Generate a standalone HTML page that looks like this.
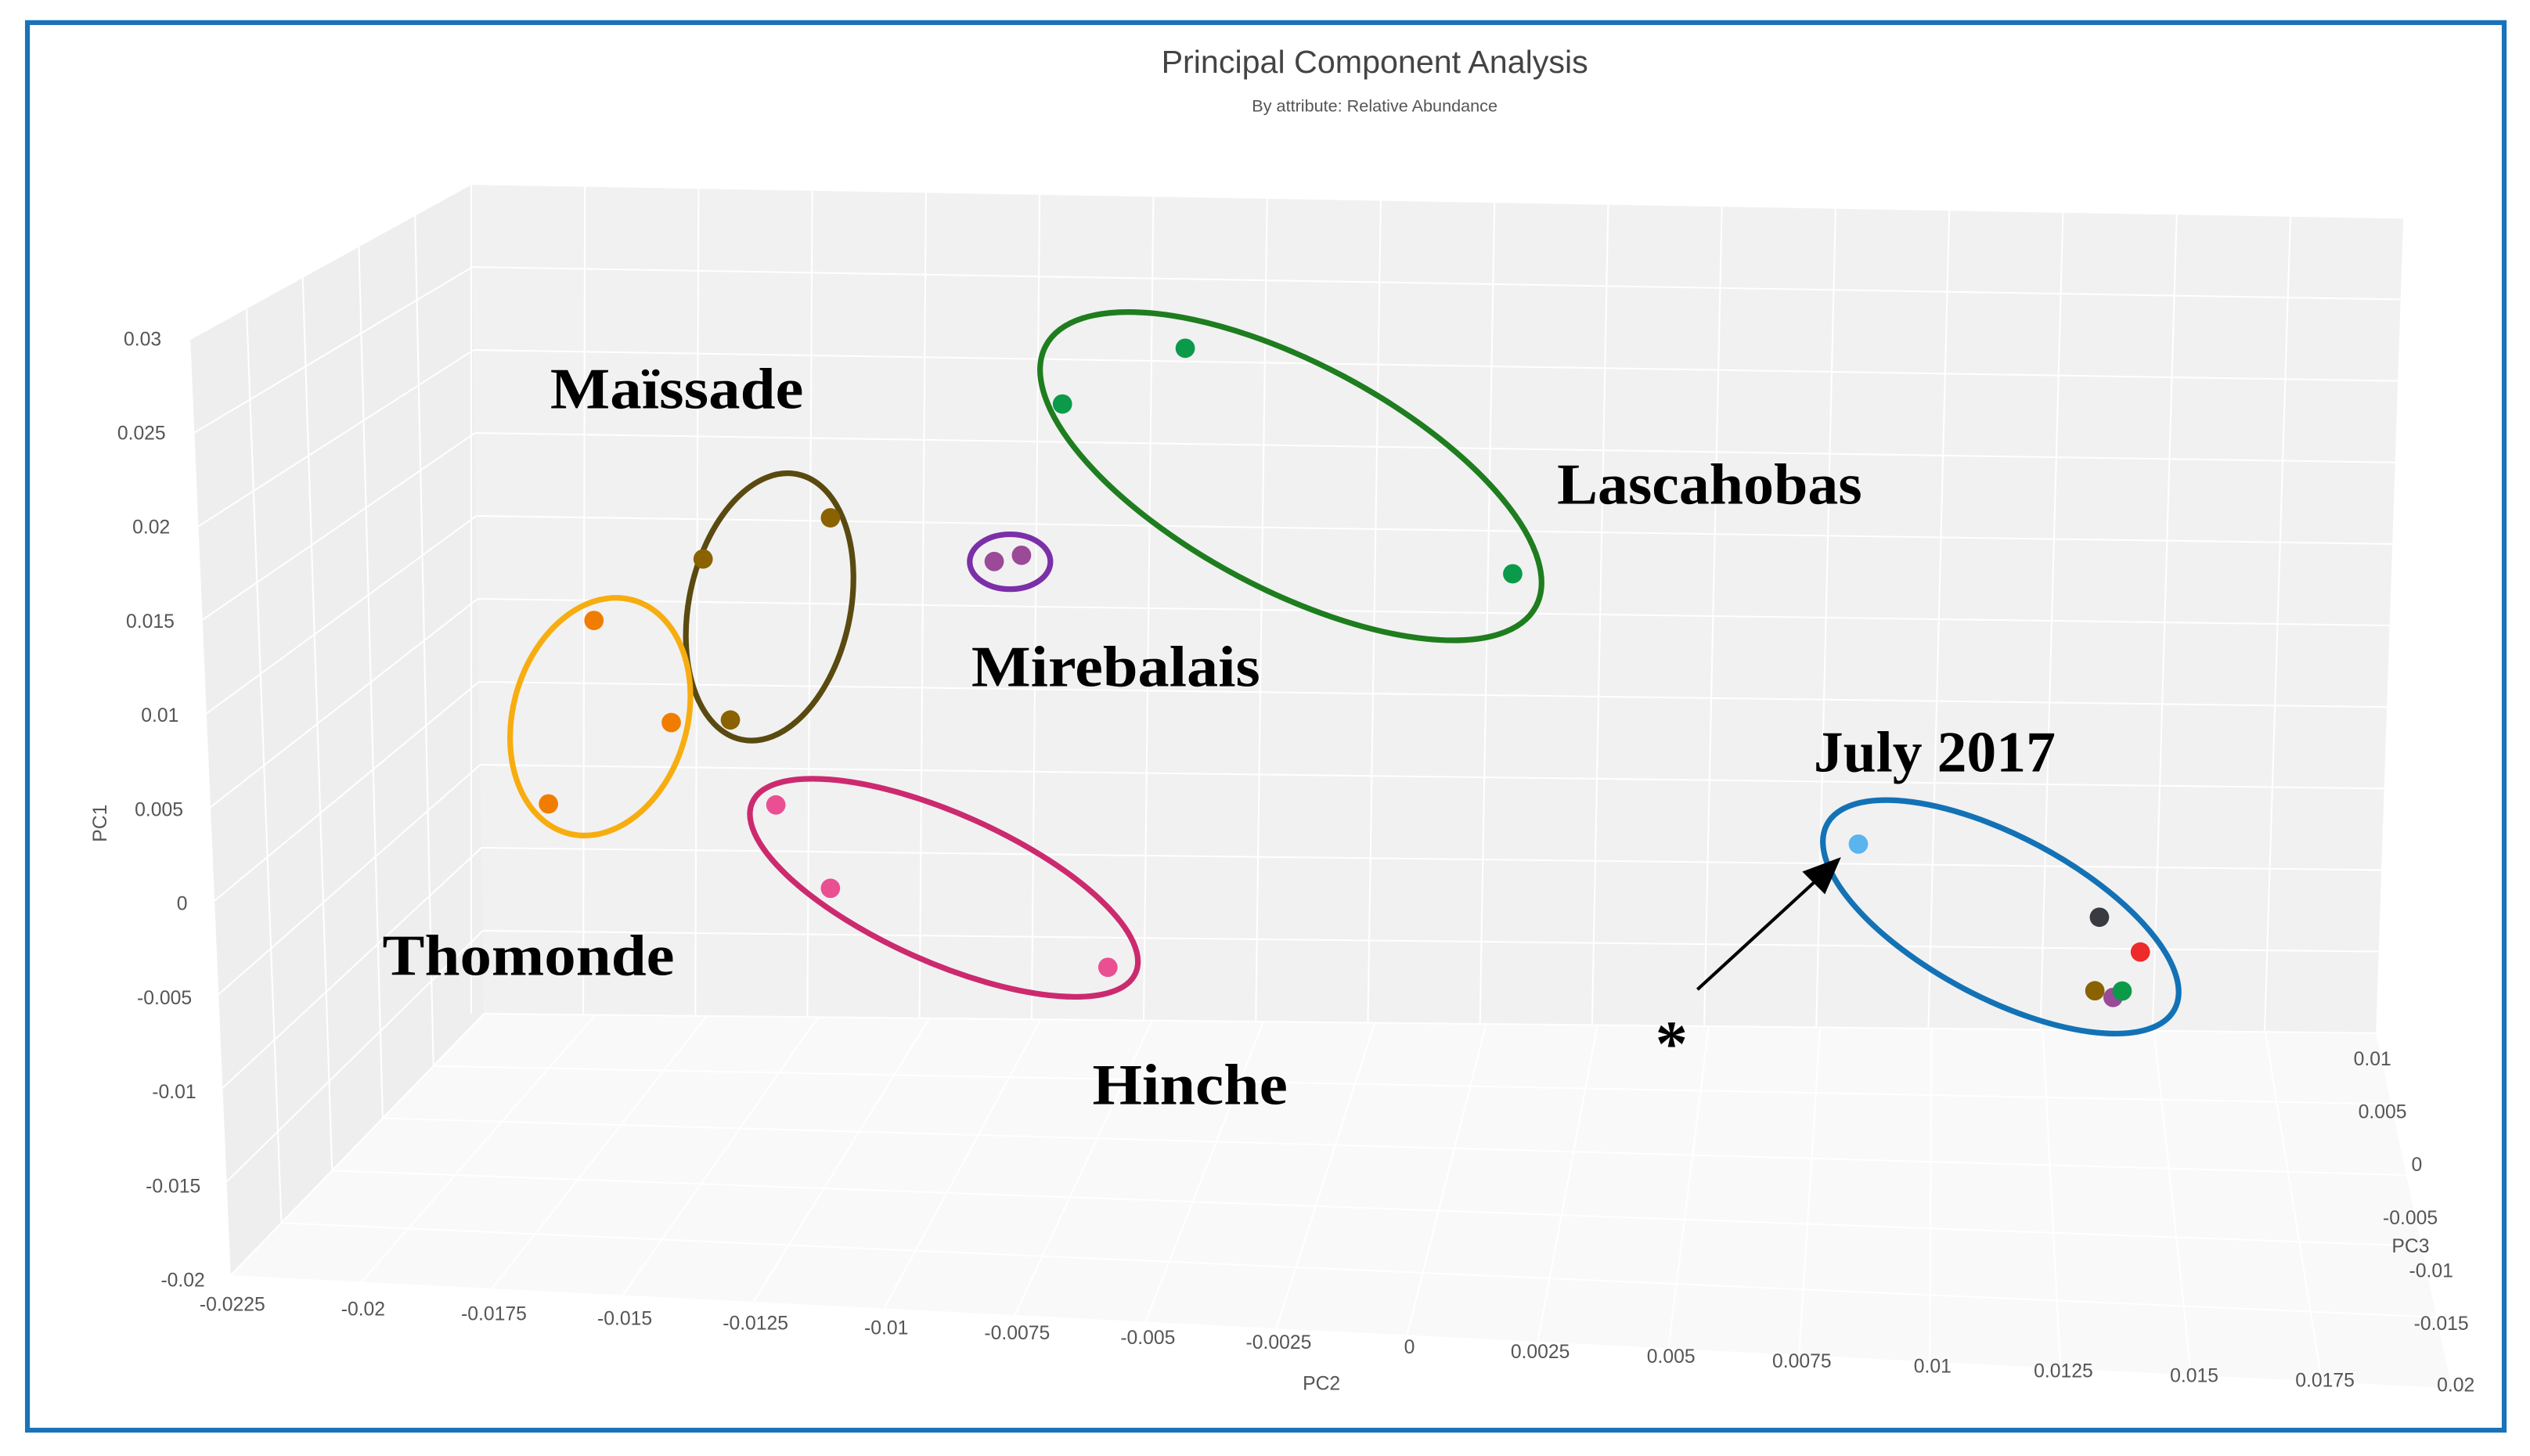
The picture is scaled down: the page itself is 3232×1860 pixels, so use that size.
<!DOCTYPE html>
<html><head><meta charset="utf-8"><style>
html,body{margin:0;padding:0;background:#fff;width:3232px;height:1860px;overflow:hidden}
svg{display:block}
.tk{font-family:"Liberation Sans",sans-serif;font-size:12px;fill:#555}
.lab{font-family:"Liberation Serif",serif;font-weight:bold;font-size:36px;fill:#000}
</style></head><body>
<svg id="chart" width="3232" height="1860" viewBox="0 0 1568 902" preserveAspectRatio="none" xmlns="http://www.w3.org/2000/svg">
<rect x="17" y="14" width="1535" height="872" fill="#fff" stroke="#1a72b8" stroke-width="3"/>
<text x="852" y="45" text-anchor="middle" font-family="Liberation Sans,sans-serif" font-size="20" fill="#444">Principal Component Analysis</text>
<text x="852" y="69" text-anchor="middle" font-family="Liberation Sans,sans-serif" font-size="10.5" fill="#555">By attribute: Relative Abundance</text>
<polygon points="143,790 300,628 1473,640 1520,860" fill="#f9f9f9"/>
<polygon points="118,210 292,114 300,628 143,790" fill="#eeeeee"/>
<polygon points="292,114 1490,135 1473,640 300,628" fill="#f1f1f1"/>
<g id="grid"></g>
<g id="ellipses">
<ellipse cx="800" cy="295" rx="172" ry="70" transform="rotate(28 800 295)" fill="none" stroke="#1e7d1e" stroke-width="3.5"/>
<ellipse cx="626" cy="348" rx="25" ry="17" fill="none" stroke="#7b2fa8" stroke-width="3.5"/>
<ellipse cx="477" cy="376" rx="50" ry="84" transform="rotate(12 477 376)" fill="none" stroke="#5a4a10" stroke-width="3.5"/>
<ellipse cx="372" cy="444" rx="54" ry="75" transform="rotate(16 372 444)" fill="none" stroke="#f7ad0f" stroke-width="3.5"/>
<ellipse cx="585" cy="550" rx="130" ry="46" transform="rotate(24 585 550)" fill="none" stroke="#cc2a6e" stroke-width="3.5"/>
<ellipse cx="1240" cy="568" rx="122" ry="50" transform="rotate(28 1240 568)" fill="none" stroke="#1372b6" stroke-width="3.5"/>
</g>
<g id="points"></g>
<line x1="1052" y1="613" x2="1125" y2="546" stroke="#000" stroke-width="2"/>
<polygon points="1141,531 1117,540 1131,554" fill="#000"/>
<text x="1026" y="660" font-family="Liberation Serif,serif" font-weight="bold" font-size="40">*</text>
<text class="lab" x="341" y="253" textLength="157" lengthAdjust="spacingAndGlyphs">Maïssade</text>
<text class="lab" x="965" y="312" textLength="189" lengthAdjust="spacingAndGlyphs">Lascahobas</text>
<text class="lab" x="602" y="425" textLength="179" lengthAdjust="spacingAndGlyphs">Mirebalais</text>
<text class="lab" x="1124" y="478" textLength="150" lengthAdjust="spacingAndGlyphs">July 2017</text>
<text class="lab" x="237" y="604" textLength="181" lengthAdjust="spacingAndGlyphs">Thomonde</text>
<text class="lab" x="677" y="684" textLength="121" lengthAdjust="spacingAndGlyphs">Hinche</text>
<g id="ticks"></g>
<text class="tk" transform="translate(66,510) rotate(-90)" text-anchor="middle" font-size="10">PC1</text>
<text class="tk" x="819" y="861" text-anchor="middle" font-size="10">PC2</text>
<text class="tk" x="1494" y="776" text-anchor="middle" font-size="10">PC3</text>
</svg>
<script>
const pc2Ticks=[-0.0225,-0.02,-0.0175,-0.015,-0.0125,-0.01,-0.0075,-0.005,-0.0025,0,0.0025,0.005,0.0075,0.01,0.0125,0.015,0.0175,0.02];
const pc1Ticks=[0.03,0.025,0.02,0.015,0.01,0.005,0,-0.005,-0.01,-0.015,-0.02];
const pc3Ticks=[0.01,0.005,0,-0.005,-0.01,-0.015];
const pointGroups=["Lascahobas","Lascahobas","Lascahobas","Mirebalais","Mirebalais","Maissade","Maissade","Maissade","Thomonde","Thomonde","Thomonde","Hinche","Hinche","Hinche","July-a","July-b","July-c","July-d","July-e","July-f"];
const pc2Values=[-0.0095,-0.0068,0.0004,-0.0110,-0.0104,-0.0146,-0.0174,-0.0168,-0.0198,-0.0181,-0.0208,-0.0158,-0.0146,-0.0085,0.0080,0.0133,0.0142,0.0132,0.0136,0.0138];
const pc1Values=[0.0173,0.0208,0.0074,0.0077,0.0081,0.0102,0.0076,-0.0021,0.0038,-0.0023,-0.0073,-0.0072,-0.0122,-0.0168,-0.0088,-0.0131,-0.0152,-0.0176,-0.0180,-0.0176];
const pointColors=["#0a9a4a","#0a9a4a","#0a9a4a","#9a4a96","#9a4a96","#8a6200","#8a6200","#8a6200","#f07d00","#f07d00","#f07d00","#ea4f93","#ea4f93","#ea4f93","#5ab4ee","#3a3a42","#ee2a2a","#8a6200","#9a4a96","#0a9a4a"];
const NS="http://www.w3.org/2000/svg";
function fx(v){return (v+0.0225)/0.0425;}
function sx(pc2){return 292+fx(pc2)*1198;}
function sy(pc1,pc2){const f=fx(pc2),t=114+21*f,b=628+12*f;return t+(0.03-pc1)/0.05*(b-t);}
function mk(tag,attrs,parent){const e=document.createElementNS(NS,tag);for(const k in attrs)e.setAttribute(k,attrs[k]);parent.appendChild(e);return e;}
const grid=document.getElementById('grid');
pc2Ticks.forEach(v=>{const l=mk('line',{x1:sx(v),y1:sy(0.03,v),x2:sx(v)-(fx(v)*17),y2:sy(-0.02,v),stroke:'#fff','stroke-width':1},grid);

});
pc1Ticks.forEach((v,i)=>{const l=mk('line',{x1:292+i*0.8,y1:sy(v,-0.0225),x2:1490-i*1.7,y2:sy(v,0.02),stroke:'#fff','stroke-width':1},grid);

});
pc1Ticks.forEach((v,i)=>{const t=i/10;const l=mk('line',{x1:118+t*25,y1:210+t*580,x2:292+t*8,y2:114+t*514,stroke:'#fff','stroke-width':1},grid);

});
[0.2,0.4,0.6,0.8].forEach(t=>{const l=mk('line',{x1:118+t*174,y1:210-t*96,x2:143+t*157,y2:790-t*162,stroke:'#fff','stroke-width':1},grid);

});
[0.2,0.4,0.6,0.8].forEach(t=>{const l=mk('line',{x1:300-t*157,y1:628+t*162,x2:1473+t*47,y2:640+t*220,stroke:'#fff','stroke-width':1},grid);

});
pc2Ticks.forEach((v,i)=>{const f=fx(v);const l=mk('line',{x1:300+f*1173,y1:628+f*12,x2:143+f*1377,y2:790+f*70,stroke:'#fff','stroke-width':1},grid);

});
const pts=document.getElementById('points');
pc2Values.forEach((v,i)=>{const c=mk('circle',{cx:sx(v),cy:sy(pc1Values[i],v),r:6,fill:pointColors[i]},pts);

});
const tk=document.getElementById('ticks');
pc1Ticks.forEach((v,i)=>{const t=i/10;const e=mk('text',{x:100+t*27,y:214+t*583,'text-anchor':'end',class:'tk'},tk);e.textContent=String(v);

});
pc2Ticks.forEach((v,i)=>{const f=fx(v);const e=mk('text',{x:144+f*1378,y:812+f*50,'text-anchor':'middle',class:'tk'},tk);e.textContent=String(v);

});
pc3Ticks.forEach((v,i)=>{const t=i/5;const e=mk('text',{x:1482+t*48,y:660+t*164,'text-anchor':'end',class:'tk'},tk);e.textContent=String(v);

});
</script>
</body></html>
